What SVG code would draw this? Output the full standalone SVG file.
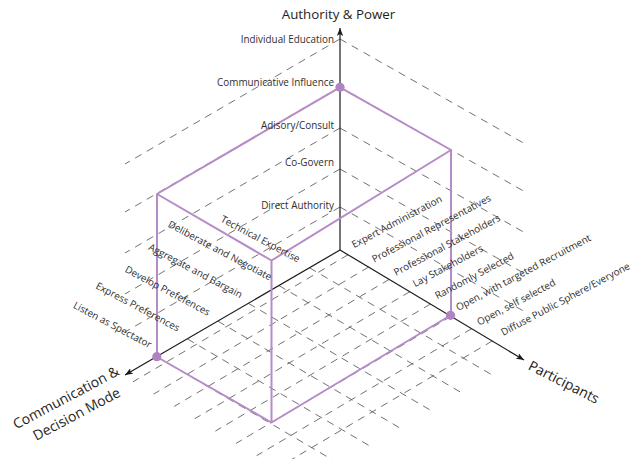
<svg xmlns="http://www.w3.org/2000/svg" width="639" height="459" viewBox="0 0 639 459">
  <style>
    .grid { stroke: #4d4d4d; stroke-width: 0.8; stroke-dasharray: 7.5 6; fill: none; }
    .axis { stroke: #1a1a1a; stroke-width: 1.2; fill: none; marker-end: url(#arrow); }
    .cube { stroke: #b68bc7; stroke-width: 2; fill: none; stroke-linejoin: round; }
    .dot { fill: #b283c3; }
    .lbl { font-family: "Open Sans", "Noto Sans", sans-serif; font-size: 9.9px; fill: #2e2e2e; }
    .title { font-family: "Open Sans", "Noto Sans", sans-serif; font-size: 14px; fill: #1e1e1e; }
  </style>
  <defs>
    <marker id="arrow" viewBox="0 0 10 8" refX="10" refY="4" markerWidth="8" markerHeight="6.4" markerUnits="userSpaceOnUse" orient="auto">
      <path d="M0,0 L10,4 L0,8 L2.5,4 z" fill="#1a1a1a"/>
    </marker>
  </defs>

  <!-- dashed reference grid -->
  <g id="grid" class="grid">
    <!-- back-left wall: from authority ticks towards communication side -->
    <path d="M340,39 L125,164 M340,87 L125,212 M340,128 L125,253 M340,169 L125,294 M340,207 L125,332"/>
    <!-- back-right wall: from authority ticks towards participants side -->
    <path d="M340,39 L527,145 M340,87 L527,193 M340,128 L527,234 M340,169 L527,275 M340,207 L527,313"/>
    <!-- floor: from communication ticks, parallel to participants axis -->
    <path d="M309.5,267.8 L493.5,375.8 M279,285.6 L463,393.6 M248.5,303.4 L432.5,411.4 M218,321.2 L402,429.2 M187.5,339 L371.5,447 M157,356.8 L341,464.8"/>
    <!-- floor: from participant ticks, parallel to communication axis -->
    <path d="M348,254.8 L133,381.8 M368.6,267.1 L153.6,394.1 M389.2,279.4 L174.2,406.4 M409.8,291.7 L194.8,418.7 M430.4,304.1 L215.4,431.1 M451,316.4 L236,443.4 M471.6,328.7 L256.6,455.7 M492.2,341 L277.2,468"/>
  </g>

  <!-- axes -->
  <g id="connectors">
    <line id="axis-authority" class="axis" x1="340" y1="250" x2="340" y2="28"/>
    <line id="axis-participants" class="axis" x1="340" y1="250" x2="524" y2="360"/>
    <line id="axis-communication" class="axis" x1="340" y1="250" x2="125" y2="375"/>
  </g>

  <!-- highlighted design space -->
  <g id="cube">
    <path class="cube" d="M157,357 L157,194 L340,87.3 L451,150 L451,315 L271.5,422.5 Z M157,194 L271.5,260.5 L451,150 M271.5,260.5 L271.5,422.5"/>
    <circle class="dot" cx="340" cy="87.3" r="4.6"/>
    <circle class="dot" cx="450.5" cy="315.3" r="4.6"/>
    <circle class="dot" cx="156.8" cy="356.7" r="4.6"/>
  </g>

  <!-- authority & power scale -->
  <g id="authority-labels" class="lbl" text-anchor="end">
    <text x="334" y="43">Individual Education</text>
    <text x="334" y="86">Communicative Influence</text>
    <text x="334" y="128.5">Adisory/Consult</text>
    <text x="334" y="166">Co-Govern</text>
    <text x="334" y="208.5">Direct Authority</text>
  </g>

  <!-- participants scale -->
  <g id="participant-labels" class="lbl">
    <text transform="translate(354,248.3) rotate(-28)">Expert Administration</text>
    <text transform="translate(374.3,262.7) rotate(-28)">Professional Representatives</text>
    <text transform="translate(396,276) rotate(-28)">Professional Stakeholders</text>
    <text transform="translate(415,287.3) rotate(-28)">Lay Stakeholders</text>
    <text transform="translate(437.3,299.3) rotate(-28)">Randomly Selected</text>
    <text transform="translate(458.3,311) rotate(-28)">Open, with targeted Recruitment</text>
    <text transform="translate(479.3,325.7) rotate(-28)">Open, self selected</text>
    <text transform="translate(503.3,336) rotate(-28)">Diffuse Public Sphere/Everyone</text>
  </g>

  <!-- communication & decision mode scale -->
  <g id="communication-labels" class="lbl" text-anchor="end">
    <text transform="translate(149.3,348.3) rotate(28)">Listen as Spectator</text>
    <text transform="translate(177.3,331.7) rotate(28)">Express Preferences</text>
    <text transform="translate(207.7,316) rotate(28)">Develop Prefefences</text>
    <text transform="translate(240,298.3) rotate(28)">Aggregate and Bargain</text>
    <text transform="translate(269.3,280.7) rotate(28)">Deliberate and Negotiate</text>
    <text transform="translate(297.7,262.7) rotate(28)">Technical Expertise</text>
  </g>

  <!-- axis titles -->
  <g id="title-authority">
    <text class="title" x="338.5" y="19" text-anchor="middle" style="font-size:13.3px">Authority &amp; Power</text>
  </g>
  <g id="title-participants">
    <text class="title" transform="translate(527.2,368.9) rotate(27)">Participants</text>
  </g>
  <g id="title-communication" class="title" text-anchor="middle">
    <text transform="translate(68.3,401.9) rotate(-28)">Communication &amp;</text>
    <text transform="translate(78.9,418.4) rotate(-28)">Decision Mode</text>
  </g>
</svg>
